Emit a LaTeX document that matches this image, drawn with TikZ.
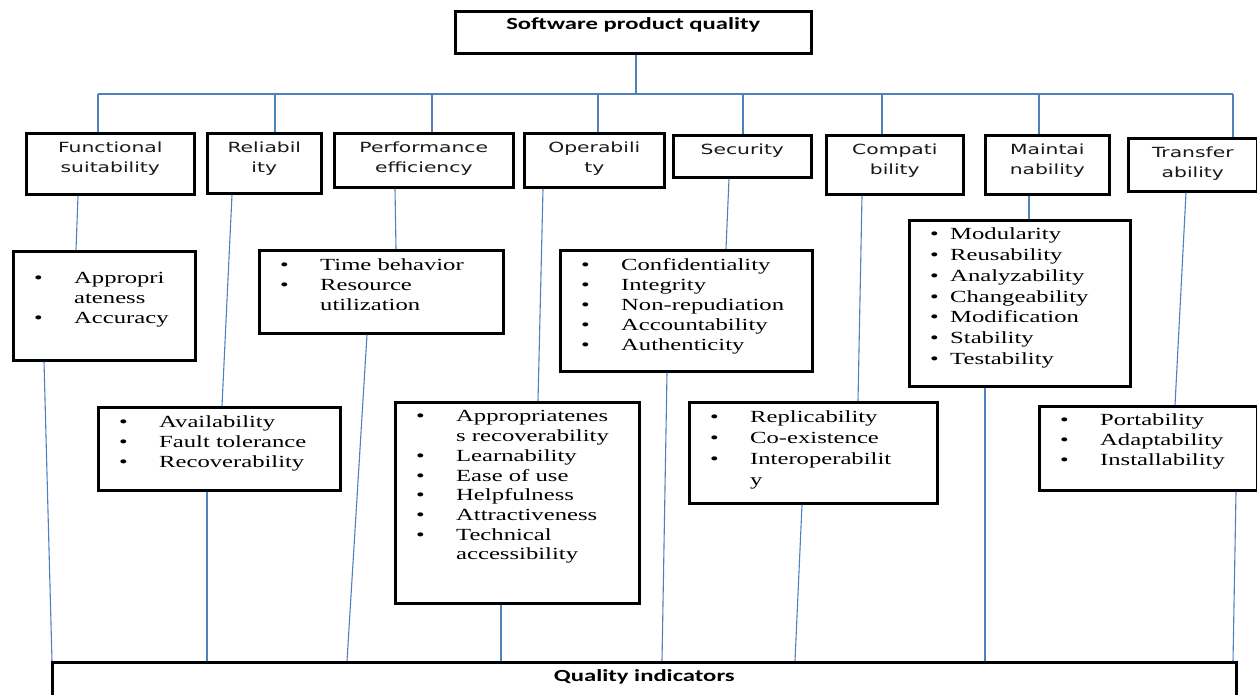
\documentclass[tikz,border=0pt]{standalone}
\usepackage{fontspec}
\newfontfamily\catfont[FakeStretch=1.45]{DejaVu Sans}
\newfontfamily\listfont[FakeStretch=1.45]{Liberation Serif}
\newfontfamily\headfont[FakeStretch=1.45]{Carlito}
\usetikzlibrary{calc}
\definecolor{linkblue}{RGB}{79,129,189}
\tikzset{
  box/.style={draw=black, line width=2.6pt, anchor=north west, inner sep=0pt},
  head/.style={font=\headfont\bfseries\fontsize{17}{20}\selectfont, inner sep=0pt, anchor=base},
  cat/.style={font=\catfont\fontsize{14}{20}\selectfont, align=center, inner sep=0pt, anchor=north, text=black!90},
  lst/.style={font=\listfont\fontsize{17}{20}\selectfont, inner sep=0pt, anchor=north west},
  link/.style={draw=linkblue, line width=1.1pt},
}
\newcommand\bu{\textbullet}
\begin{document}
\begin{tikzpicture}[x=1pt,y=-1pt]
\useasboundingbox (0,0) rectangle (1257,695);
\clip (0,0) rectangle (1257,695);

% root and bottom boxes
\node[box, minimum width=356pt, minimum height=42pt] (top) at (454,10) {};
\node[head] (topL) at ([yshift=-19.5pt]top.north) {Software product quality};
\node[box, minimum width=1184pt, minimum height=60pt] (q) at (51,661) {};
\node[head] (qL) at ([yshift=-20.5pt]q.north) {Quality indicators};

% characteristic boxes
\node[box, minimum width=168pt, minimum height=61pt] (fs) at (25,132) {};
\node[box, minimum width=114pt, minimum height=60pt] (rel) at (206,132) {};
\node[box, minimum width=179pt, minimum height=54pt] (perf) at (333,132) {};
\node[box, minimum width=140pt, minimum height=54pt] (op) at (523,132) {};
\node[box, minimum width=138pt, minimum height=42pt] (sec) at (672,134) {};
\node[box, minimum width=137pt, minimum height=59pt] (comp) at (825,134) {};
\node[box, minimum width=124pt, minimum height=59pt] (maint) at (984,134) {};
\node[box, minimum width=129pt, minimum height=53pt] (tr) at (1127,137) {};

\node[cat] (fsL) at ([yshift=-9.5pt]fs.north) {Functional\\suitability};
\node[cat] (relL) at ([yshift=-9.5pt]rel.north) {Reliabil\\ity};
\node[cat] (perfL) at ([yshift=-9.5pt]perf.north) {Performance\\efficiency};
\node[cat] (opL) at ([yshift=-9.5pt]op.north) {Operabili\\ty};
\node[cat] (secL) at ([yshift=-9.5pt]sec.north) {Security};
\node[cat] (compL) at ([yshift=-9.5pt]comp.north) {Compati\\bility};
\node[cat] (maintL) at ([yshift=-9.5pt]maint.north) {Maintai\\nability};
\node[cat] (trL) at ([yshift=-9.5pt]tr.north) {Transfer\\ability};

% sub-characteristic boxes
\node[box, minimum width=182pt, minimum height=109pt] (fss) at (12,250) {};
\node[box, minimum width=242pt, minimum height=83pt] (rels) at (97,406) {};
\node[box, minimum width=244pt, minimum height=83pt] (perfs) at (258,249) {};
\node[box, minimum width=244pt, minimum height=201pt] (ops) at (394,401) {};
\node[box, minimum width=252pt, minimum height=121pt] (secs) at (559,249) {};
\node[box, minimum width=248pt, minimum height=101pt] (comps) at (688,401) {};
\node[box, minimum width=221pt, minimum height=166pt] (maints) at (908,219) {};
\node[box, minimum width=218pt, minimum height=84pt] (trs) at (1038,405) {};

\node[lst] (fssT) at ([shift={(22,19)}]fss.north west) {%
  \begin{tabular}{@{}p{40pt}@{}l@{}}
  \bu & Appropri\\ & ateness\\ \bu & Accuracy
  \end{tabular}};
\node[lst] (relsT) at ([shift={(22,7)}]rels.north west) {%
  \begin{tabular}{@{}p{40pt}@{}l@{}}
  \bu & Availability\\ \bu & Fault tolerance\\ \bu & Recoverability
  \end{tabular}};
\node[lst] (perfsT) at ([shift={(22,7)}]perfs.north west) {%
  \begin{tabular}{@{}p{40pt}@{}l@{}}
  \bu & Time behavior\\ \bu & Resource\\ & utilization
  \end{tabular}};
\node[lst] (opsT) at ([shift={(22,7)}]ops.north west) {%
  \renewcommand\arraystretch{0.985}%
  \begin{tabular}{@{}p{40pt}@{}l@{}}
  \bu & Appropriatenes\\ & s recoverability\\ \bu & Learnability\\
  \bu & Ease of use\\ \bu & Helpfulness\\ \bu & Attractiveness\\
  \bu & Technical\\ & accessibility
  \end{tabular}};
\node[lst] (secsT) at ([shift={(22,7)}]secs.north west) {%
  \begin{tabular}{@{}p{40pt}@{}l@{}}
  \bu & Confidentiality\\ \bu & Integrity\\ \bu & Non-repudiation\\
  \bu & Accountability\\ \bu & Authenticity
  \end{tabular}};
\node[lst] (compsT) at ([shift={(22,7)}]comps.north west) {%
  \renewcommand\arraystretch{1.05}%
  \begin{tabular}{@{}p{40pt}@{}l@{}}
  \bu & Replicability\\ \bu & Co-existence\\ \bu & Interoperabilit\\ & y
  \end{tabular}};
\node[lst] (maintsT) at ([shift={(22,6)}]maints.north west) {%
  \renewcommand\arraystretch{1.04}%
  \begin{tabular}{@{}p{20pt}@{}l@{}}
  \bu & Modularity\\ \bu & Reusability\\ \bu & Analyzability\\
  \bu & Changeability\\ \bu & Modification\\ \bu & Stability\\ \bu & Testability
  \end{tabular}};
\node[lst] (trsT) at ([shift={(22,6)}]trs.north west) {%
  \begin{tabular}{@{}p{40pt}@{}l@{}}
  \bu & Portability\\ \bu & Adaptability\\ \bu & Installability
  \end{tabular}};

% tree connectors
\coordinate (hub) at (636,94);
\coordinate (d1) at (98,94);
\coordinate (d2) at (275,94);
\coordinate (d3) at (432,94);
\coordinate (d4) at (598,94);
\coordinate (d5) at (743,94);
\coordinate (d6) at (882,94);
\coordinate (d7) at (1039,94);
\coordinate (d8) at (1233,94);
\draw[link] (top.south -| hub) -- (hub);
\draw[link] (d1) -- (d8);
\draw[link] (d1) -- (d1 |- fs.north);
\draw[link] (d2) -- (d2 |- rel.north);
\draw[link] (d3) -- (d3 |- perf.north);
\draw[link] (d4) -- (d4 |- op.north);
\draw[link] (d5) -- (d5 |- sec.north);
\draw[link] (d6) -- (d6 |- comp.north);
\draw[link] (d7) -- (d7 |- maint.north);
\draw[link] (d8) -- (d8 |- tr.north);

% characteristic to sub-characteristic
\draw[link] ([xshift=53pt]fs.south west) -- ([xshift=64pt]fss.north west);
\draw[link] ([xshift=26pt]rel.south west) -- ([xshift=125pt]rels.north west);
\draw[link] ([xshift=62pt]perf.south west) -- ([xshift=138pt]perfs.north west);
\draw[link] ([xshift=20pt]op.south west) -- ([xshift=144pt]ops.north west);
\draw[link] ([xshift=57pt]sec.south west) -- ([xshift=167pt]secs.north west);
\draw[link] ([xshift=37pt]comp.south west) -- ([xshift=170pt]comps.north west);
\draw[link] ([xshift=45pt]maint.south west) -- ([xshift=121pt]maints.north west);
\draw[link] ([xshift=59pt]tr.south west) -- ([xshift=137pt]trs.north west);

% sub-characteristic to quality indicators
\draw[link] ([xshift=32pt]fss.south west) -- ([xshift=1pt]q.north west);
\draw[link] ([xshift=110pt]rels.south west) -- ([xshift=156pt]q.north west);
\draw[link] ([xshift=109pt]perfs.south west) -- ([xshift=296pt]q.north west);
\draw[link] ([xshift=107pt]ops.south west) -- ([xshift=450pt]q.north west);
\draw[link] ([xshift=108pt]secs.south west) -- ([xshift=611pt]q.north west);
\draw[link] ([xshift=114pt]comps.south west) -- ([xshift=744pt]q.north west);
\draw[link] ([xshift=77pt]maints.south west) -- ([xshift=934pt]q.north west);
\draw[link] ([xshift=198pt]trs.south west) -- ([xshift=1182pt]q.north west);
\end{tikzpicture}
\end{document}
